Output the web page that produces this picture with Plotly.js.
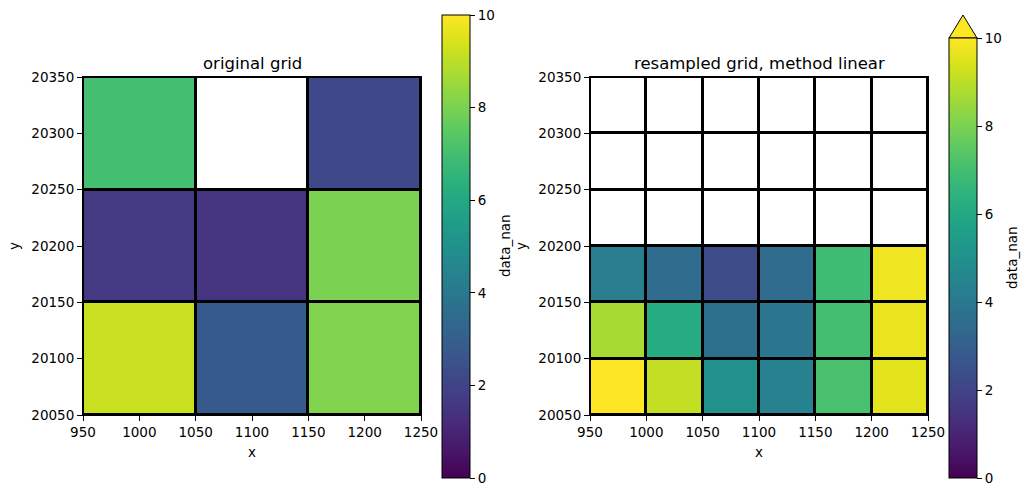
<!DOCTYPE html>
<html>
<head>
<meta charset="utf-8">
<script src="https://cdn.plot.ly/plotly-3.0.1.min.js"></script>
<style>html,body{margin:0;padding:0;background:#fff;}#chart{width:1029px;height:496px;}</style>
</head>
<body>
<div id="chart"></div>
<script>
// Original grid (3x3), cell centres
var origX = [1000, 1100, 1200];
var origY = [20100, 20200, 20300];
var origZ = [
  [9.2, 2.8, 8.1],
  [1.7, 1.5, 8.0],
  [7.0, null, 2.2]
];
// Resampled grid (6x6), cell centres
var resX = [975, 1025, 1075, 1125, 1175, 1225];
var resY = [20075, 20125, 20175, 20225, 20275, 20325];
var resZ = [
  [10.2, 9.1, 5.0, 4.4, 7.1, 9.6],
  [8.7, 6.2, 3.7, 3.9, 7.0, 9.7],
  [4.2, 3.5, 2.3, 3.5, 6.9, 9.8],
  [null, null, null, null, null, null],
  [null, null, null, null, null, null],
  [null, null, null, null, null, null]
];
var xTicks = [950, 1000, 1050, 1100, 1150, 1200, 1250];
var yTicks = [20050, 20100, 20150, 20200, 20250, 20300, 20350];
var cbTicks = [0, 2, 4, 6, 8, 10];
var titles = ['original grid', 'resampled grid, method linear'];
var cbTitle = 'data_nan';

var FONT = 'DejaVu Sans, sans-serif';
var W = 1029, H = 496;
function px2x(p){return p/W;}
function px2y(p){return (H-p)/H;}

function blank(z){return z.map(function(r){return r.map(function(){return 0;});});}

function cb(x0, yTop, yBot){
  return {
    x: px2x(x0), xanchor: 'left', xref: 'paper',
    y: px2y((yTop+yBot)/2), yanchor: 'middle', yref: 'paper',
    len: (yBot-yTop)/H, lenmode: 'fraction',
    thickness: 28, thicknessmode: 'pixels',
    outlinewidth: 1, outlinecolor: '#000',
    ticks: 'outside', ticklen: 5, tickwidth: 1, tickcolor: '#000',
    tickvals: cbTicks, ticktext: cbTicks.map(String),
    tickfont: {family: FONT, size: 13.5, color: '#000'},
    xpad: 0, ypad: 0
  };
}

var traces = [
  {type:'heatmap', x: origX, y: origY, z: blank(origZ), colorscale: [[0,'#fff'],[1,'#fff']], showscale:false, xgap:3, ygap:3, hoverinfo:'skip', xaxis:'x', yaxis:'y'},
  {type:'heatmap', x: origX, y: origY, z: origZ, colorscale:'Viridis', zmin:0, zmax:10, xgap:3, ygap:3, xaxis:'x', yaxis:'y', colorbar: cb(442, 15, 478)},
  {type:'heatmap', x: resX, y: resY, z: blank(resZ), colorscale: [[0,'#fff'],[1,'#fff']], showscale:false, xgap:3, ygap:3, hoverinfo:'skip', xaxis:'x2', yaxis:'y2'},
  {type:'heatmap', x: resX, y: resY, z: resZ, colorscale:'Viridis', zmin:0, zmax:10, xgap:3, ygap:3, xaxis:'x2', yaxis:'y2', colorbar: cb(949, 38, 478)}
];

function xax(d0, d1, anchor){
  return {domain:[px2x(d0), px2x(d1)], anchor: anchor, range:[950,1250], tickvals:xTicks, ticktext:xTicks.map(String),
    ticks:'outside', ticklen:5, tickwidth:1, tickcolor:'#000', showgrid:false, zeroline:false,
    showline:true, mirror:true, linecolor:'#000', linewidth:1,
    tickfont:{family:FONT, size:13.5, color:'#000'},
    title:{text:'x', font:{family:FONT, size:13.5, color:'#000'}, standoff:8}, automargin:false};
}
function yax(anchor){
  return {domain:[px2y(415), px2y(77)], anchor: anchor, range:[20050,20350], tickvals:yTicks, ticktext:yTicks.map(String),
    ticks:'outside', ticklen:5, tickwidth:1, tickcolor:'#000', showgrid:false, zeroline:false,
    showline:true, mirror:true, linecolor:'#000', linewidth:1,
    tickfont:{family:FONT, size:13.5, color:'#000'},
    title:{text:'y', font:{family:FONT, size:13.5, color:'#000'}, standoff:8}, automargin:false};
}

function annot(text, xp, yp, size, angle){
  return {text: text, xref:'paper', yref:'paper', x: px2x(xp), y: px2y(yp), xanchor:'center', yanchor:'middle',
    showarrow:false, textangle: angle || 0, font:{family:FONT, size:size, color:'#000'}};
}

var layout = {
  width: W, height: H,
  margin: {l:0, r:0, t:0, b:0},
  paper_bgcolor: '#fff', plot_bgcolor: '#000',
  showlegend: false,
  font: {family: FONT, color:'#000'},
  xaxis: xax(83, 421, 'y'),
  yaxis: yax('x'),
  xaxis2: xax(590, 928, 'y2'),
  yaxis2: yax('x2'),
  annotations: [
    annot(titles[0], 252, 63, 16.5),
    annot(titles[1], 759, 63, 16.5),
    annot(cbTitle, 505, 246, 13.5, -90),
    annot(cbTitle, 1012, 258, 13.5, -90)
  ],
  shapes: [
    {type:'path', xref:'paper', yref:'paper',
     path: 'M '+px2x(949)+' '+px2y(38)+' L '+px2x(963)+' '+px2y(15)+' L '+px2x(977)+' '+px2y(38)+' Z',
     fillcolor:'#fde725', line:{color:'#000', width:1}}
  ]
};

Plotly.newPlot('chart', traces, layout, {displayModeBar:false, staticPlot:true});
</script>
</body>
</html>
